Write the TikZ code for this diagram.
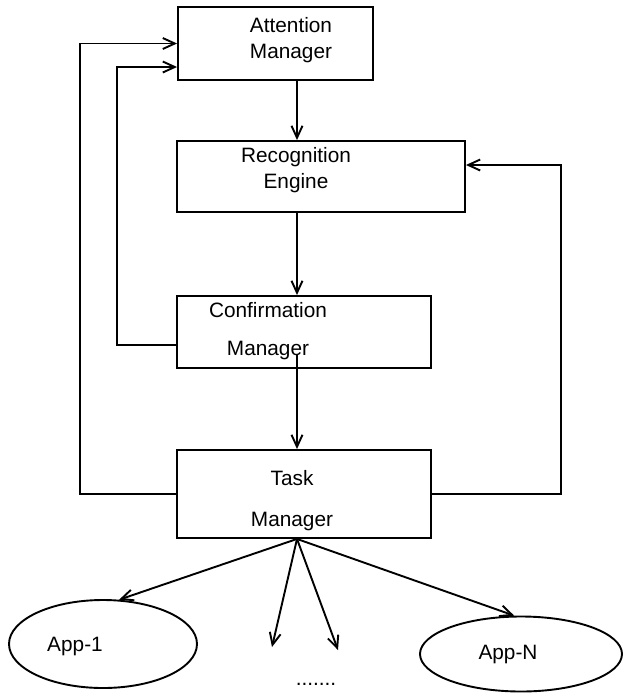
\documentclass[tikz,border=0pt]{standalone}
\usepackage{fontspec}
\setmainfont{Liberation Sans}
\usetikzlibrary{arrows.meta}
\usetikzlibrary{shapes.geometric}
\tikzset{
  box/.style={draw, rectangle, inner sep=0pt},
  app/.style={draw, ellipse, inner sep=0pt},
  txt/.style={align=center, font=\fontsize{10.4}{13}\selectfont}
}

\begin{document}
\begin{tikzpicture}[x=0.5pt, y=-0.5pt, line width=0.95pt, >={Straight Barb[length=6pt,width=5.5pt]}]
  \useasboundingbox (0,0) rectangle (629,698);

  \node[box, minimum width=97.5pt, minimum height=36.5pt] (att) at (275.5,43.5) {};
  \node[txt] (attT) at (291,40) {Attention\\Manager};
  \node[box, minimum width=144pt, minimum height=35.5pt] (rec) at (321,176.5) {};
  \node[txt] (recT) at (296,170) {Recognition\\Engine};
  \node[box, minimum width=127pt, minimum height=36pt] (conf) at (304,332) {};
  \node[txt] (confT) at (268,331) {Confirmation\\[6pt]Manager};
  \node[box, minimum width=127pt, minimum height=44pt] (task) at (304,494) {};
  \node[txt] (taskT) at (292,501) {Task\\[7.5pt]Manager};

  \node[app, minimum width=94pt, minimum height=44pt] (app1) at (103,644) {};
  \node[txt] (app1T) at (75,646) {App-1};
  \node[app, minimum width=101pt, minimum height=37.5pt] (appN) at (521,654) {};
  \node[txt] (appNT) at (508,654) {App-N};
  \node[txt] (dots) at (316,684) {.......};

  \coordinate (spine) at (297,0);
  \coordinate (fbL) at (80,0);
  \coordinate (fbI) at (117,0);
  \coordinate (fbR) at (561,0);
  \coordinate (attIn) at ([yshift=-11.75pt]att.west);
  \coordinate (recIn) at ([yshift=5.75pt]rec.east);
  \coordinate (confOut) at (297,355);
  \coordinate (fan) at (task.south -| spine);
  \coordinate (dotsL) at (272,647);
  \coordinate (dotsR) at (338,650);

  \foreach \from/\to in {att/rec, rec/conf}
   \draw[->] (\from.south -| spine) -- (\to.north -| spine);
  \draw[->] (confOut) -- (task.north -| spine);

  % feedback loops
  \draw[->] (task.west) -| (fbL |- att.west) -- (att.west);
  \draw[->] ([yshift=-6.5pt]conf.west) -| (fbI |- attIn) -- (attIn);
  \draw[->] (task.east) -| (fbR |- recIn) -- (recIn);

  \foreach \to in {app1.70, dotsL, dotsR, appN.100}
   \draw[->] (fan) -- (\to);
\end{tikzpicture}
\end{document}
